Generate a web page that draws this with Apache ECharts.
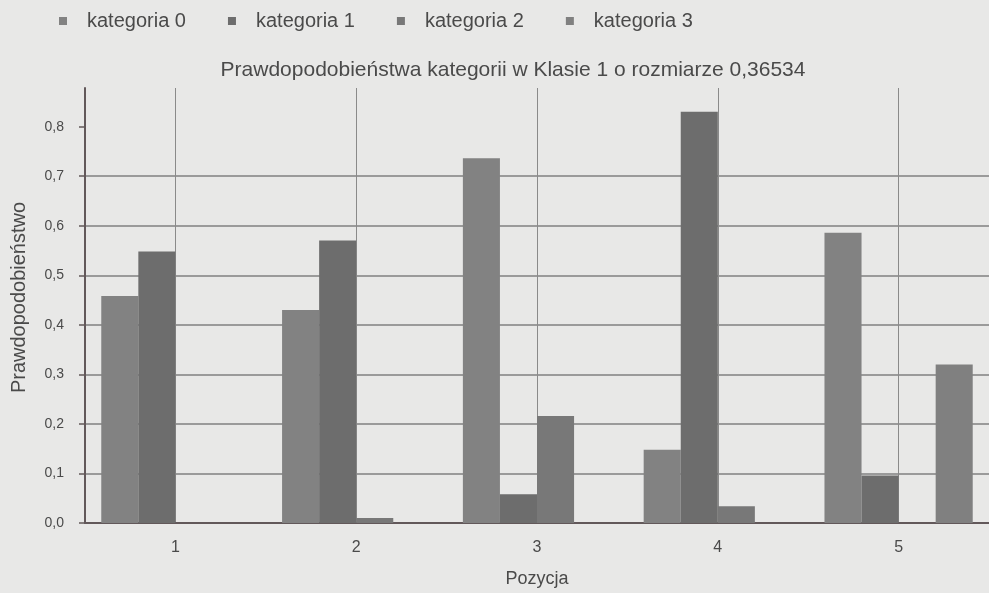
<!DOCTYPE html>
<html>
<head>
<meta charset="utf-8">
<script src="https://cdn.jsdelivr.net/npm/echarts@6/dist/echarts.min.js"></script>
<style>
html,body{margin:0;padding:0;background:#e8e8e7;}
#chart{width:989px;height:593px;}
</style>
</head>
<body>
<div id="chart"></div>
<script>
var pozycje = ['1', '2', '3', '4', '5'];
var kategorie = ['kategoria 0', 'kategoria 1', 'kategoria 2', 'kategoria 3'];
var kat0 = [0.458, 0.43, 0.736, 0.148, 0.586];
var kat1 = [0.548, 0.57, 0.058, 0.83, 0.096];
var kat2 = [0, 0.01, 0.216, 0.034, 0];
var kat3 = [0, 0, 0, 0, 0.32];
var yTicks = [0, 0.1, 0.2, 0.3, 0.4, 0.5, 0.6, 0.7, 0.8];
var kolory = ['#828282', '#6d6d6d', '#787878', '#808080'];

var chart = echarts.init(document.getElementById('chart'));
var fontFam = 'Liberation Sans, Arial, sans-serif';
var axisCol = '#62585a';

var serie = [kat0, kat1, kat2, kat3].map(function (d, i) {
    return {
        name: kategorie[i],
        type: 'bar',
        barGap: 0,
        barCategoryGap: '18%',
        itemStyle: {color: kolory[i]},
        data: d
    };
});

option = {
    backgroundColor: '#e8e8e7',
    animation: false,
    color: kolory,
    title: {
        text: 'Prawdopodobieństwa kategorii w Klasie 1 o rozmiarze 0,36534',
        left: 508,
        top: 55,
        textAlign: 'center',
        textStyle: {fontFamily: fontFam, fontSize: 21, fontWeight: 'normal', color: '#4a4a4a'}
    },
    legend: {
        data: kategorie,
        left: 54,
        top: 6,
        icon: 'path://M0,0H1V1H0Z',
        itemWidth: 38,
        itemHeight: 8,
        itemGap: 42,
        textStyle: {fontFamily: fontFam, fontSize: 20, color: '#4a4a4a'}
    },
    grid: {left: 85, right: 0, top: 88, bottom: 66},
    xAxis: {
        type: 'category',
        data: pozycje,
        name: 'Pozycja',
        nameLocation: 'middle',
        nameGap: 47,
        nameTextStyle: {fontFamily: fontFam, fontSize: 18, color: '#4a4a4a'},
        axisLine: {lineStyle: {color: axisCol, width: 2}},
        axisTick: {alignWithLabel: true, length: 8, lineStyle: {color: axisCol, width: 2}},
        axisLabel: {fontFamily: fontFam, fontSize: 16, color: '#4a4a4a', margin: 17},
        splitLine: {show: true, alignWithLabel: true, lineStyle: {color: '#8a8a8a', width: 1}}
    },
    yAxis: {
        type: 'value',
        min: 0,
        max: 0.878,
        interval: 0.1,
        name: 'Prawdopodobieństwo',
        nameLocation: 'middle',
        nameGap: 56,
        nameTextStyle: {fontFamily: fontFam, fontSize: 20, color: '#4a4a4a', padding: [0, 0, 0, 16]},
        axisLine: {show: true, lineStyle: {color: axisCol, width: 2}},
        axisTick: {show: true, length: 6, customValues: yTicks, lineStyle: {color: axisCol, width: 1.5}},
        axisLabel: {
            fontFamily: fontFam, fontSize: 14, color: '#4a4a4a', margin: 21,
            customValues: yTicks,
            formatter: function (v) { return v.toFixed(1).replace('.', ','); }
        },
        splitLine: {show: true, showMaxLine: false, lineStyle: {color: '#9a9a9a', width: 2}}
    },
    series: serie
};
chart.setOption(option);
</script>
</body>
</html>
